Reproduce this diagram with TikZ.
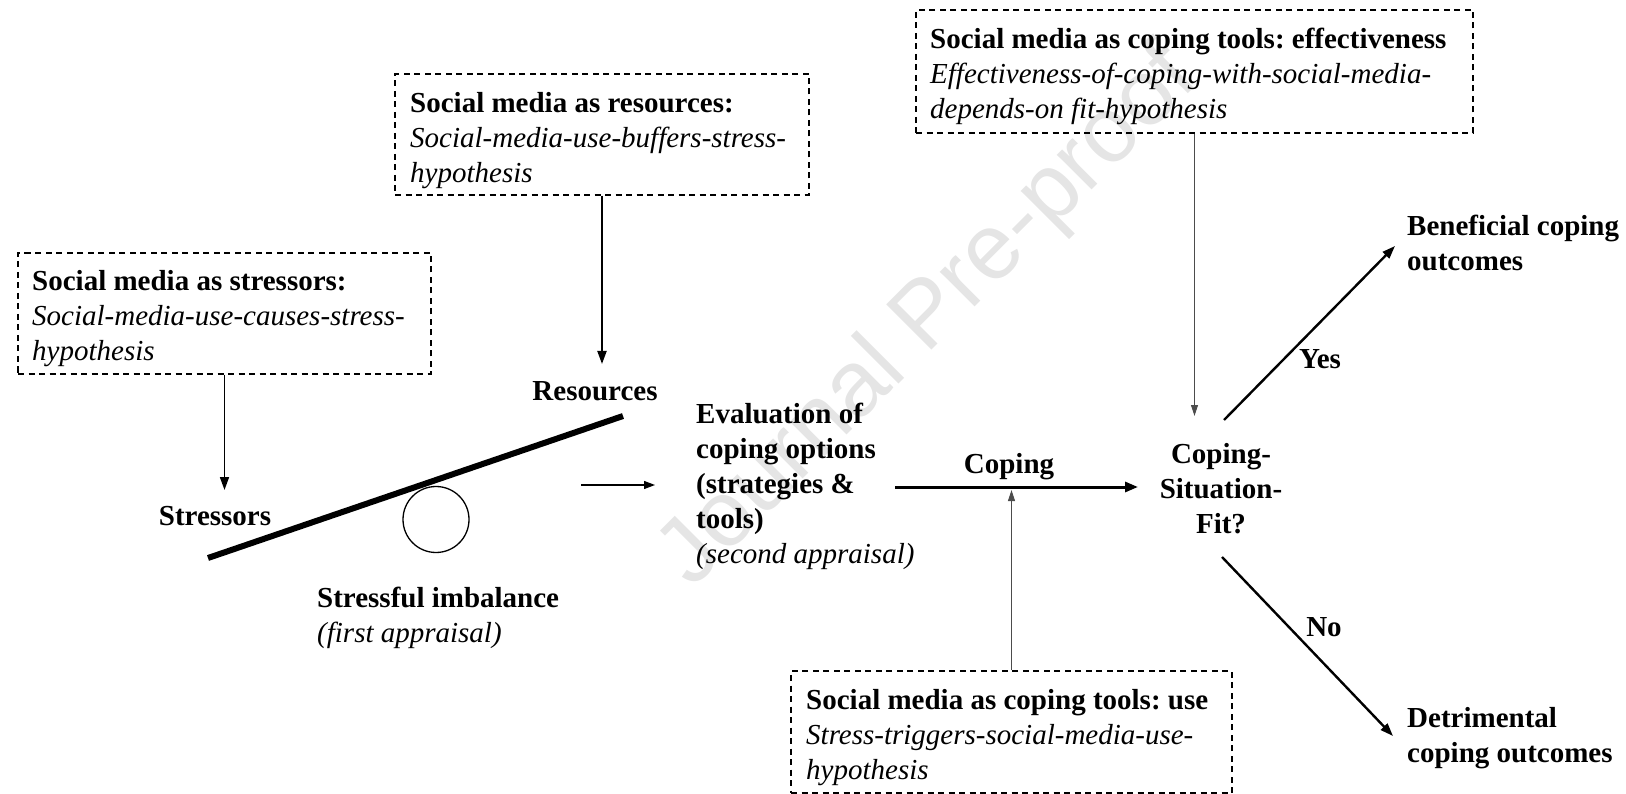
\documentclass[tikz,border=0pt]{standalone}
\usepackage{fontspec}
\setmainfont{Liberation Serif}
\newfontfamily\wmfont{Liberation Sans}
\usetikzlibrary{arrows.meta}
\begin{document}
\frenchspacing
\begin{tikzpicture}[x=1pt,y=-1pt,
  font=\fontsize{29}{35}\selectfont,
  hyp/.style={draw, dash pattern=on 6pt off 4.5pt, line width=1.4pt, inner sep=0pt},
  txt/.style={align=left, inner sep=0pt, anchor=north west},
  lbl/.style={inner sep=0pt, font=\fontsize{29}{35}\selectfont\bfseries},
  arr/.style={-{Triangle[length=13pt,width=9pt]}, line width=2pt},
  thinarr/.style={-{Triangle[length=11pt,width=7pt]}, line width=1pt, black!70},
  bigarr/.style={-{Triangle[length=13pt,width=10pt]}, line width=3pt}
]
\useasboundingbox (0,0) rectangle (1626,794);

% watermark
\node[rotate=45, text=black!10, font=\wmfont\fontsize{93}{100}\selectfont, inner sep=0pt] (wm) at (930,318) {Journal Pre-proof};

% hypothesis boxes
\node[hyp, minimum width=413pt, minimum height=121pt] (BS) at (224.5,313.5) {};
\node[txt] (BStxt) at (32,270) {\textbf{Social media as stressors:}\\\textit{Social-media-use-causes-stress-}\\\textit{hypothesis}};

\node[hyp, minimum width=414pt, minimum height=121pt] (BR) at (602,134.5) {};
\node[txt] (BRtxt) at (410,92) {\textbf{Social media as resources:}\\\textit{Social-media-use-buffers-stress-}\\\textit{hypothesis}};

\node[hyp, minimum width=557pt, minimum height=123pt] (BE) at (1194.5,71.5) {};
\node[txt] (BEtxt) at (930,28) {\textbf{Social media as coping tools: effectiveness}\\\textit{Effectiveness-of-coping-with-social-media-}\\\textit{depends-on fit-hypothesis}};

\node[hyp, minimum width=441pt, minimum height=122pt] (BU) at (1011.5,732) {};
\node[txt] (BUtxt) at (806,689) {\textbf{Social media as coping tools: use}\\\textit{Stress-triggers-social-media-use-}\\\textit{hypothesis}};

% seesaw
\coordinate (beamL) at (208,558);
\coordinate (beamR) at (623,416);
\draw[line width=6pt] (beamL) -- (beamR);
\node[draw, circle, minimum size=66pt, line width=1.3pt, inner sep=0pt] (fulcrum) at (436,519.5) {};

% labels
\node[lbl] (stressors) at (215,516) {Stressors};
\node[lbl] (resources) at (595,391) {Resources};
\node[txt] (imbalance) at (317,587) {\textbf{Stressful imbalance}\\\textit{(first appraisal)}};
\node[txt] (eval) at (696,403) {\textbf{Evaluation of}\\\textbf{coping options}\\\textbf{(strategies \&}\\\textbf{tools)}\\\textit{(second appraisal)}};
\node[lbl] (copinglbl) at (1009,467) {Coping};
\node[lbl, align=center, anchor=north] (fit) at (1221,443) {Coping-\\Situation-\\Fit?};
\node[txt, font=\fontsize{29}{35}\selectfont\bfseries] (benef) at (1407,215) {Beneficial coping\\outcomes};
\node[txt, font=\fontsize{29}{35}\selectfont\bfseries] (detr) at (1407,707) {Detrimental\\coping outcomes};
\node[lbl] (yes) at (1320,359) {Yes};
\node[lbl] (no) at (1324,627) {No};

% connectors
\coordinate (tipS) at (224.5,490);
\draw[arr, line width=1.7pt] (BS.south) -- (tipS);
\coordinate (tipR) at (602,364);
\draw[arr] (BR.south) -- (tipR);
\coordinate (smallA) at (581,485);
\coordinate (smallB) at (655,485);
\draw[-{Triangle[length=11pt,width=8pt]}, line width=1.2pt] (smallA) -- (smallB);
\coordinate (copA) at (895,487);
\coordinate (copB) at (1138,487);
\draw[bigarr] (copA) -- (copB);
\coordinate (tipU) at (1011.5,490);
\draw[thinarr] (BU.north) -- (tipU);
\coordinate (tipE) at (1194.5,416);
\draw[thinarr] (BE.south) -- (tipE);
\coordinate (yesA) at (1224,420);
\coordinate (yesB) at (1395,246);
\draw[arr, line width=2.4pt] (yesA) -- (yesB);
\coordinate (noA) at (1222,557);
\coordinate (noB) at (1393,736);
\draw[arr, line width=2.4pt] (noA) -- (noB);
\end{tikzpicture}
\end{document}
